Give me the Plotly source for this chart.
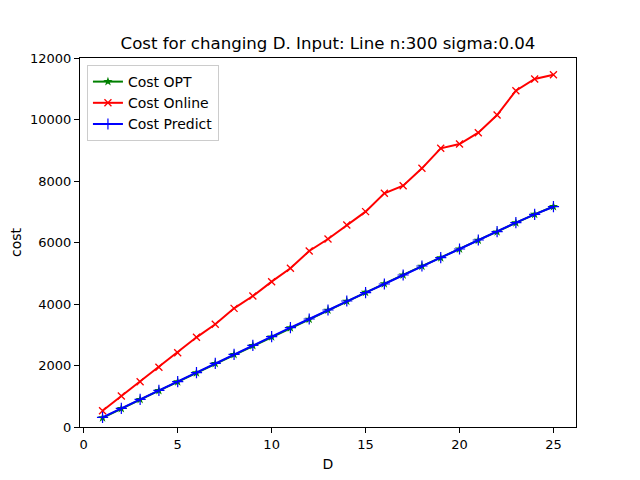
import plotly.graph_objects as go

D = list(range(1, 26))
cost_opt = [300, 600, 895, 1185, 1470, 1760, 2065, 2360, 2650, 2930, 3225, 3505, 3800, 4090, 4380,
            4660, 4945, 5230, 5500, 5790, 6075, 6345, 6640, 6915, 7170]
cost_online = [530, 1008, 1473, 1941, 2417, 2916, 3339, 3859, 4260, 4726, 5160, 5724, 6114, 6569, 7003,
               7599, 7848, 8412, 9063, 9203, 9571, 10146, 10937, 11317, 11457]
cost_predict = [315, 608, 900, 1193, 1473, 1766, 2070, 2364, 2656, 2937, 3230, 3512, 3805, 4098, 4368,
                4650, 4943, 5236, 5506, 5789, 6081, 6351, 6644, 6917, 7164]
x_ticks = [0, 5, 10, 15, 20, 25]
y_ticks = [0, 2000, 4000, 6000, 8000, 10000, 12000]

font = "DejaVu Sans"
fig = go.Figure()
fig.add_trace(go.Scatter(x=D, y=cost_opt, mode="lines+markers", name="Cost OPT",
                         line=dict(color="green", width=2),
                         marker=dict(symbol="star", size=7, color="green")))
fig.add_trace(go.Scatter(x=D, y=cost_online, mode="lines+markers", name="Cost Online",
                         line=dict(color="red", width=2),
                         marker=dict(symbol="x-thin", size=7, line=dict(color="red", width=1.3))))
fig.add_trace(go.Scatter(x=D, y=cost_predict, mode="lines+markers", name="Cost Predict",
                         line=dict(color="blue", width=2),
                         marker=dict(symbol="cross-thin", size=8, line=dict(color="blue", width=1.2))))

fig.update_layout(
    width=640, height=480,
    margin=dict(l=72, r=72, t=50, b=61, autoexpand=False),
    paper_bgcolor="white", plot_bgcolor="white",
    font=dict(family=font, size=13, color="black"),
    title=dict(text="Cost for changing D. Input: Line n:300 sigma:0.04", xref="paper", x=0.5,
               xanchor="center", y=1 - 35 / 480, yanchor="middle", font=dict(size=16.6), automargin=False),
    legend=dict(x=0.014, y=0.981, xanchor="left", yanchor="top", bgcolor="rgba(255,255,255,0.8)",
                bordercolor="#cccccc", borderwidth=1, font=dict(size=14), tracegroupgap=0,
                itemwidth=30),
    showlegend=True,
)
fig.update_xaxes(range=[-0.2, 26.2], tickvals=x_ticks, ticktext=[str(v) for v in x_ticks],
                 ticks="outside", ticklen=5, automargin=False,
                 tickcolor="black", showline=True, linecolor="black", linewidth=1, mirror=True,
                 showgrid=False, zeroline=False, tickfont=dict(size=13),
                 title=dict(text="D", font=dict(size=14), standoff=8))
fig.update_yaxes(range=[0, 12000], tickvals=y_ticks, ticktext=[str(v) for v in y_ticks],
                 ticks="outside", automargin=False,
                 ticklen=5, tickcolor="black", showline=True, linecolor="black", linewidth=1, mirror=True,
                 showgrid=False, zeroline=False, tickfont=dict(size=13),
                 title=dict(text="cost", font=dict(size=14), standoff=8))
fig.write_html("out.html")
